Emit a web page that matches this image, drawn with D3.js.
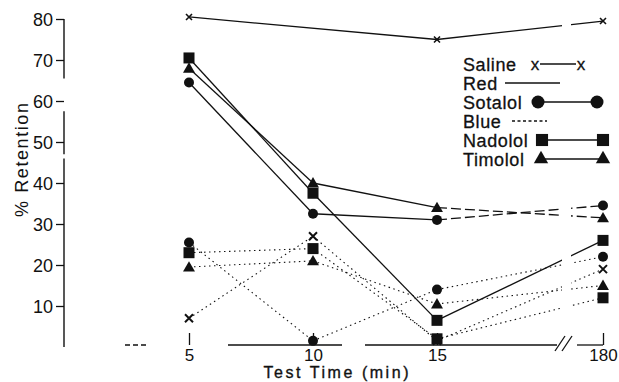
<!DOCTYPE html>
<html><head><meta charset="utf-8">
<script src="https://cdn.jsdelivr.net/npm/d3@7"></script>
<style>
html,body{margin:0;padding:0;background:#fff;}
svg{display:block;font-family:"Liberation Sans",Arial,Helvetica,sans-serif;}
</style></head>
<body><svg id="chart" width="619" height="382"></svg>
<script>
// ---------- data ----------
const times = [5, 10, 15, 180];
const xTickLabels = ["5", "10", "15", "180"];
const yTicks = [10, 20, 30, 40, 50, 60, 70, 80];

// "Red" condition (solid lines)
const salineRed  = [80.5, null, 75, 79.5];
const sotalolRed = [64.5, 32.5, 31, 34.5];
const nadololRed = [70.5, 37.5, 6.5, 26];
const timololRed = [68, 40, 34, 31.5];

// "Blue" condition (dotted lines)
const salineBlue  = [7, 27, 1.5, 19];
const sotalolBlue = [25.5, 1.5, 14, 22];
const nadololBlue = [23, 24, 2, 12];
const timololBlue = [19.5, 21, 10.5, 15];

const legendLabels = ["Saline", "Red", "Sotalol", "Blue", "Nadolol", "Timolol"];

// ---------- setup ----------
const svg = d3.select("#chart");
const ink = "#111";
const x = d3.scaleLinear().domain([5, 15, 180]).range([189, 437, 603]);
const y = d3.scaleLinear().domain([0, 80]).range([347, 19]);
const axisY = 345, axisX = 64;

// clip: gap at the axis break
const defs = svg.append("defs");
const cp = defs.append("clipPath").attr("id", "brk");
cp.append("rect").attr("x", 0).attr("y", 0).attr("width", 562).attr("height", 382);
cp.append("rect").attr("x", 571).attr("y", 0).attr("width", 48).attr("height", 382);

// ---------- y axis ----------
const yAxis = d3.axisLeft(y).tickValues(yTicks).tickSizeInner(8).tickSizeOuter(0).tickPadding(3);
const gy = svg.append("g").attr("transform", `translate(${axisX},0)`).call(yAxis);
gy.select(".domain").remove();
gy.selectAll(".tick line").attr("stroke", ink).attr("stroke-width", 1.3);
gy.selectAll(".tick text").attr("fill", ink).style("font-size", "18px").attr("dy", "0.36em");
const ySegs = [[80, 65.5], [57.5, 47], [46, 0]];
ySegs.forEach(s => svg.append("line").attr("x1", axisX).attr("x2", axisX)
  .attr("y1", y(s[0])).attr("y2", y(s[1])).attr("stroke", ink).attr("stroke-width", 1.4));

// ---------- x axis ----------
const xAxis = d3.axisBottom(x).tickValues(times).tickFormat((d, i) => xTickLabels[i])
  .tickSizeInner(-12).tickSizeOuter(0).tickPadding(3.5);
const gx = svg.append("g").attr("transform", `translate(0,${axisY})`).call(xAxis);
gx.select(".domain").remove();
gx.selectAll(".tick line").attr("stroke", ink).attr("stroke-width", 1.3);
gx.selectAll(".tick text").attr("fill", ink).style("font-size", "17px");
const xSegs = [[125, 147, "5,3"], [228, 342, null], [365, 557, null], [577, 603, null]];
xSegs.forEach(s => svg.append("line").attr("x1", s[0]).attr("x2", s[1])
  .attr("y1", axisY).attr("y2", axisY).attr("stroke", ink).attr("stroke-width", 1.3)
  .attr("stroke-dasharray", s[2]));
[0, 7].forEach(o => svg.append("line").attr("x1", 555 + o).attr("y1", 351)
  .attr("x2", 565 + o).attr("y2", 336).attr("stroke", ink).attr("stroke-width", 1.3));

// axis titles
svg.append("text").attr("x", 336).attr("y", 378.3).attr("text-anchor", "middle")
  .attr("textLength", 145).attr("lengthAdjust", "spacing")
  .style("font-size", "16px").attr("fill", ink).attr("stroke", ink).attr("stroke-width", 0.35)
  .text("Test Time (min)");
svg.append("text").attr("transform", "translate(28,160) rotate(-90)").attr("text-anchor", "middle")
  .attr("textLength", 114).attr("lengthAdjust", "spacing")
  .style("font-size", "18px").attr("fill", ink)
  .text("% Retention");

// ---------- series ----------
const series = [
  {v: salineRed,  shape: "x",  dotted: false, small: true},
  {v: sotalolRed, shape: "circle", dotted: false, dashLast: true},
  {v: nadololRed, shape: "square", dotted: false},
  {v: timololRed, shape: "triangle", dotted: false, dashLast: true},
  {v: salineBlue,  shape: "x", dotted: true},
  {v: sotalolBlue, shape: "circle", dotted: true},
  {v: nadololBlue, shape: "square", dotted: true},
  {v: timololBlue, shape: "triangle", dotted: true},
];

const lineG = svg.append("g").attr("clip-path", "url(#brk)");
series.forEach(s => {
  const pts = times.map((t, i) => ({t, v: s.v[i]})).filter(p => p.v != null);
  for (let i = 0; i < pts.length - 1; i++) {
    const a = pts[i], b = pts[i + 1];
    let dash = null;
    if (s.dotted) dash = "1.5,3.5";
    else if (s.dashLast && b.t === 180) dash = "10,4";
    lineG.append("path")
      .attr("d", d3.line().x(p => x(p.t)).y(p => y(p.v))([a, b]))
      .attr("fill", "none").attr("stroke", ink)
      .attr("stroke-width", s.dotted ? 1.1 : 1.3)
      .attr("stroke-dasharray", dash);
  }
});

function drawMarker(g, shape, cx, cy, scale, small) {
  if (shape === "circle") {
    g.append("circle").attr("cx", cx).attr("cy", cy).attr("r", 5 * scale).attr("fill", ink);
  } else if (shape === "square") {
    const s = 11 * scale;
    g.append("rect").attr("x", cx - s / 2).attr("y", cy - s / 2).attr("width", s).attr("height", s).attr("fill", ink);
  } else if (shape === "triangle") {
    g.append("path").attr("transform", `translate(${cx},${cy + 1})`)
      .attr("d", d3.symbol().type(d3.symbolTriangle).size(62 * scale * scale)()).attr("fill", ink);
  } else if (shape === "x") {
    const h = small ? 3 : 4;
    g.append("path").attr("d", `M${cx - h},${cy - h}L${cx + h},${cy + h}M${cx - h},${cy + h}L${cx + h},${cy - h}`)
      .attr("stroke", ink).attr("stroke-width", small ? 1.6 : 2).attr("fill", "none");
  }
}

const markG = svg.append("g");
series.forEach(s => {
  times.forEach((t, i) => {
    if (s.v[i] == null) return;
    drawMarker(markG, s.shape, x(t), y(s.v[i]), 1, s.small);
  });
});

// ---------- legend ----------
const lg = svg.append("g").attr("class", "legend");
const rowY = [64, 83, 102, 121, 140, 159];
const lx = 463;
const textEnds = legendLabels.map((lab, i) => {
  const t = lg.append("text").attr("x", lx).attr("y", rowY[i] + 6.5).style("font-size", "18px")
    .style("letter-spacing", "0.6px")
    .attr("fill", ink).attr("stroke", ink).attr("stroke-width", 0.3).text(lab);
  return lx + t.node().getComputedTextLength();
});
function lline(y0, x1, x2, dash) {
  lg.append("line").attr("x1", x1).attr("x2", x2).attr("y1", y0).attr("y2", y0)
    .attr("stroke", ink).attr("stroke-width", 1.4).attr("stroke-dasharray", dash || null);
}
function lx0(i, want, half) { return Math.max(want, textEnds[i] + 4 + half); }
// Saline x——x
const sx1 = lx0(0, 535, 4);
[sx1, 581].forEach(cx => lg.append("text").attr("x", cx).attr("y", rowY[0] + 5.5)
  .attr("text-anchor", "middle").style("font-size", "17px").attr("fill", ink)
  .attr("stroke", ink).attr("stroke-width", 0.3).text("x"));
lline(rowY[0], sx1 + 5, 576);
// Red
lline(rowY[1], lx0(1, 505, 0), 560);
// Sotalol
const sc1 = lx0(2, 538, 6.5);
lline(rowY[2], sc1, 597);
drawMarker(lg, "circle", sc1, rowY[2], 1.3);
drawMarker(lg, "circle", 597, rowY[2], 1.3);
// Blue
lline(rowY[3], lx0(3, 512, 0), 547, "3,2.5");
// Nadolol
const nq1 = lx0(4, 542, 6);
lline(rowY[4], nq1, 603);
drawMarker(lg, "square", nq1, rowY[4], 1.1);
drawMarker(lg, "square", 603, rowY[4], 1.1);
// Timolol
const tt1 = lx0(5, 541, 6);
lline(rowY[5], tt1, 603);
drawMarker(lg, "triangle", tt1, rowY[5] - 1, 1.2);
drawMarker(lg, "triangle", 603, rowY[5] - 1, 1.2);
</script>
</body></html>
